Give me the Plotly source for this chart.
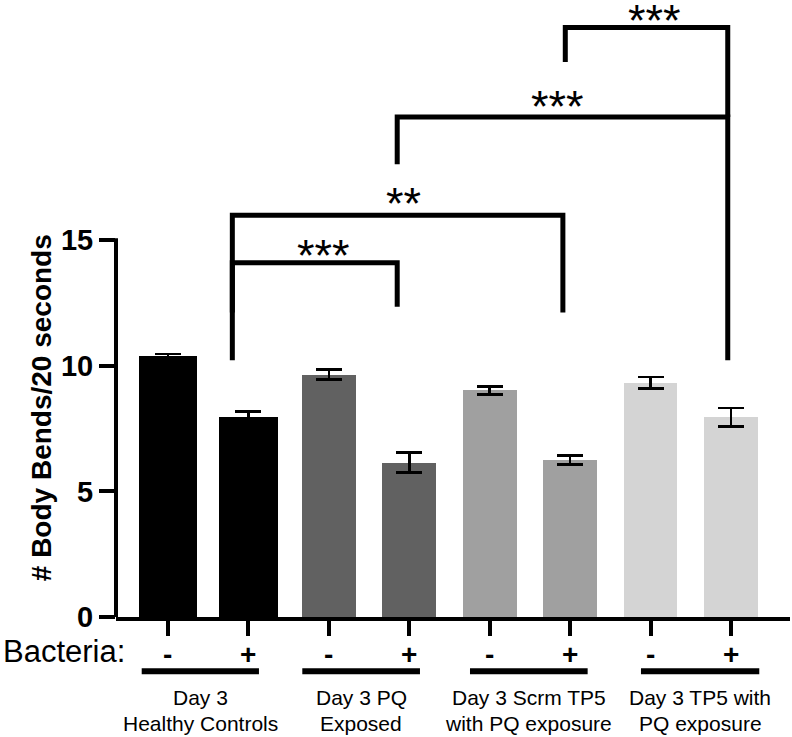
import plotly.graph_objects as go

# ---------------- data ----------------
positions = [0, 1, 2, 3, 4, 5, 6, 7]
bacteria_labels = ["-", "+", "-", "+", "-", "+", "-", "+"]
bar_values = [10.38, 7.96, 9.65, 6.15, 9.02, 6.25, 9.32, 7.96]
bar_errors = [0.09, 0.23, 0.20, 0.40, 0.16, 0.18, 0.23, 0.37]
bar_colors = ["#000000", "#000000", "#616161", "#616161",
              "#a0a0a0", "#a0a0a0", "#d4d4d4", "#d4d4d4"]
bar_widths = [0.73, 0.73, 0.67, 0.67, 0.67, 0.67, 0.67, 0.67]

group_line1 = ["Day 3", "Day 3 PQ", "Day 3 Scrm TP5", "Day 3 TP5 with"]
group_line2 = ["Healthy Controls", "Exposed", "with PQ exposure", "PQ exposure"]
group_spans = [(-0.327, 1.131), (1.67, 3.133), (3.755, 5.218), (5.881, 7.352)]

y_ticks = [0, 5, 10, 15]
y_title = "# Body Bends/20 seconds"
x_title = "Bacteria:"

# significance brackets: (left x, left bottom, right x, right bottom, bar height, label, label x, label y)
brackets = [
    (0.80, 10.22, 2.85, 12.35, 14.11, "***", 1.93, 14.60),
    (0.80, 12.13, 4.91, 12.13, 16.00, "**", 2.93, 16.66),
    (2.85, 18.03, 6.96, 10.22, 19.91, "***", 4.84, 20.51),
    (4.94, 22.10, 6.96, 19.91, 23.47, "***", 6.055, 23.97),
]

FONT = "Arial, Liberation Sans, sans-serif"

fig = go.Figure()
fig.add_trace(go.Bar(
    x=positions, y=bar_values, width=bar_widths,
    marker=dict(color=bar_colors, line=dict(width=0)),
    error_y=dict(type="data", array=bar_errors, visible=True,
                 color="black", thickness=2.5, width=13),
    showlegend=False, hoverinfo="skip",
))

shapes = []
# y axis line (only 0..15)
shapes.append(dict(type="line", xref="paper", yref="y", x0=0, x1=0,
                   y0=0, y1=15.08, line=dict(color="black", width=4)))
# brackets
for (xl, yl, xr, yr, yh, lab, lx, ly) in brackets:
    shapes.append(dict(type="path", xref="x", yref="y",
                       path=f"M {xl},{yl} L {xl},{yh} L {xr},{yh} L {xr},{yr}",
                       line=dict(color="black", width=5)))
# group underlines
for (a, b) in group_spans:
    shapes.append(dict(type="line", xref="x", yref="paper", x0=a, x1=b,
                       y0=-0.088, y1=-0.088, line=dict(color="black", width=6)))

annotations = []
for (xl, yl, xr, yr, yh, lab, lx, ly) in brackets:
    annotations.append(dict(x=lx, y=ly, xref="x", yref="y", text=lab,
                            showarrow=False, xanchor="center", yanchor="middle",
                            yshift=-5, font=dict(family=FONT, size=45, color="black")))
for p, lab in zip(positions, bacteria_labels):
    annotations.append(dict(x=p, y=-0.0600, xref="x", yref="paper", text=f"<b>{lab}</b>",
                            showarrow=False, xanchor="center", yanchor="middle",
                            font=dict(family=FONT, size=28, color="black")))
for (a, b), l1, l2 in zip(group_spans, group_line1, group_line2):
    annotations.append(dict(x=(a + b) / 2, y=-0.1297, xref="x", yref="paper", text=l1,
                            showarrow=False, xanchor="center", yanchor="middle",
                            font=dict(family=FONT, size=21, color="black")))
    annotations.append(dict(x=(a + b) / 2, y=-0.1718, xref="x", yref="paper", text=l2,
                            showarrow=False, xanchor="center", yanchor="middle",
                            font=dict(family=FONT, size=21, color="black")))
annotations.append(dict(x=-0.1706, y=-0.0567, xref="paper", yref="paper", text=x_title,
                        showarrow=False, xanchor="left", yanchor="middle",
                        font=dict(family=FONT, size=31, color="black")))
annotations.append(dict(x=-0.111, y=0.3387, xref="paper", yref="paper",
                        text=f"<b>{y_title}</b>", textangle=-90,
                        showarrow=False, xanchor="center", yanchor="middle",
                        font=dict(family=FONT, size=28, color="black")))

fig.update_layout(
    width=792, height=737,
    margin=dict(l=116, r=2, t=0, b=120),
    paper_bgcolor="white", plot_bgcolor="white",
    shapes=shapes, annotations=annotations,
    xaxis=dict(range=[-0.6465, 7.734], tickvals=positions, showticklabels=False,
               showline=True, linecolor="black", linewidth=4,
               ticks="outside", ticklen=15, tickwidth=4, tickcolor="black",
               showgrid=False, zeroline=False, fixedrange=True),
    yaxis=dict(range=[0, 24.57], tickvals=y_ticks, ticktext=[f"<b>{t}</b>" for t in y_ticks],
               showline=False, ticks="outside", ticklen=16, tickwidth=4, tickcolor="black",
               tickfont=dict(family=FONT, size=29, color="black"),
               showgrid=False, zeroline=False, fixedrange=True),
    bargap=0,
)

fig.write_html("out.html", config={"displayModeBar": False},
               post_script="document.body.style.margin='0';document.body.style.overflow='hidden';")
